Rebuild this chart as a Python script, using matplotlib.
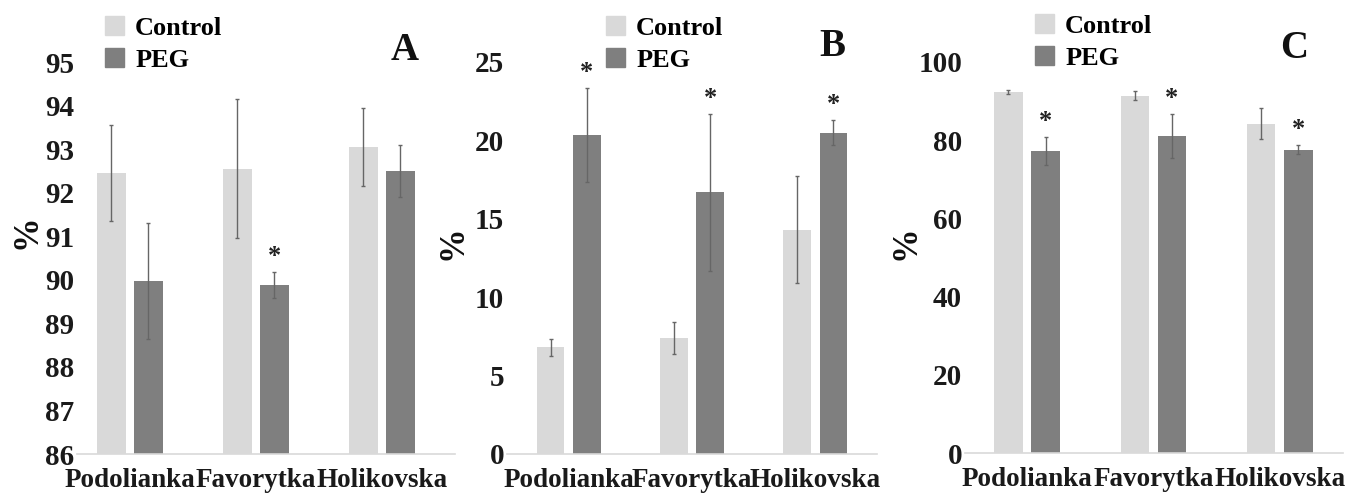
import matplotlib
matplotlib.use("Agg")
import matplotlib.pyplot as plt
import numpy as np
from matplotlib.patches import Patch

### DATOS
### ------------------

varieties = ["Podolianka", "Favorytka", "Holikovska"]

a_control = [92.45, 92.55, 93.05]
a_control_err = [1.1, 1.6, 0.9]
a_peg = [89.97, 89.88, 92.5]
a_peg_err = [1.33, 0.3, 0.6]
a_star = [False, True, False]

b_control = [6.8, 7.4, 14.3]
b_control_err = [0.55, 1.05, 3.4]
b_peg = [20.35, 16.7, 20.5]
b_peg_err = [3.0, 5.0, 0.8]
b_star = [True, True, True]

c_control = [92.3, 91.4, 84.2]
c_control_err = [0.5, 1.2, 4.0]
c_peg = [77.3, 81.1, 77.6]
c_peg_err = [3.6, 5.6, 1.1]
c_star = [True, True, True]

ticks_a = [86, 87, 88, 89, 90, 91, 92, 93, 94, 95]
ticks_b = [0, 5, 10, 15, 20, 25]
ticks_c = [0, 20, 40, 60, 80, 100]

### ESTILO
### ------------------

W, H = 1368, 493
plt.rcParams['font.family'] = ['Liberation Serif', 'DejaVu Serif']
plt.rcParams['font.weight'] = 'bold'

LIGHT = '#d9d9d9'
DARK = '#7f7f7f'
ERR = '#666666'

fig = plt.figure(figsize=(W / 100, H / 100), dpi=100)


def px_axes(left, right, bottom, top):
    return fig.add_axes([left / W, 1 - bottom / H, (right - left) / W, (bottom - top) / H])


def draw_panel(ax, control, control_err, peg, peg_err, stars, ylim, yticks, xlim,
               letter, letter_xy, legend_xy, ylabel_xy):
    x = np.arange(len(varieties))
    w = 0.225
    off = 0.147
    ax.bar(x - off, control, w, color=LIGHT, zorder=2)
    ax.bar(x + off, peg, w, color=DARK, zorder=2)
    ax.errorbar(x - off, control, yerr=control_err, fmt='none', ecolor=ERR,
                elinewidth=1, capsize=1.5, capthick=1, zorder=3)
    ax.errorbar(x + off, peg, yerr=peg_err, fmt='none', ecolor=ERR,
                elinewidth=1, capsize=1.5, capthick=1, zorder=3)
    # asteriscos de significancia
    for i, s in enumerate(stars):
        if s:
            ax.annotate('*', (x[i] + off, peg[i] + peg_err[i]), xytext=(0, 3),
                        textcoords='offset points', ha='center', va='bottom',
                        fontsize=19, color='#222222')

    ax.set_ylim(*ylim)
    ax.set_xlim(*xlim)
    ax.set_yticks(yticks)
    ax.set_xticks(x)
    ax.set_xticklabels(varieties)
    for sp in ['top', 'right', 'left']:
        ax.spines[sp].set_visible(False)
    ax.spines['bottom'].set_color(LIGHT)
    ax.spines['bottom'].set_linewidth(1.2)
    ax.tick_params(axis='both', length=0, colors='#1a1a1a')
    ax.tick_params(axis='y', pad=2, labelsize=21)
    ax.tick_params(axis='x', pad=10, labelsize=19.5)
    ax.patch.set_alpha(0)

    fig.text(letter_xy[0] / W, 1 - letter_xy[1] / H, letter, fontsize=28,
             ha='center', va='center', color='#111111')
    fig.text(ylabel_xy[0] / W, 1 - ylabel_xy[1] / H, '%', fontsize=25,
             rotation=90, ha='center', va='center', color='#111111')

    handles = [Patch(color=LIGHT, label='Control'), Patch(color=DARK, label='PEG')]
    fig.legend(handles=handles, loc='upper left',
               bbox_to_anchor=(legend_xy[0] / W, 1 - legend_xy[1] / H),
               frameon=False, fontsize=19, handlelength=0.72, handleheight=0.72,
               handletextpad=0.42, labelspacing=0.32, borderpad=0, borderaxespad=0)


ax_a = px_axes(77, 455, 454, 62)
draw_panel(ax_a, a_control, a_control_err, a_peg, a_peg_err, a_star, (86, 95), ticks_a,
           (-0.42, 2.58), 'A', (405, 51), (105, 16), (27, 232))

ax_b = px_axes(507, 877, 454, 62)
draw_panel(ax_b, b_control, b_control_err, b_peg, b_peg_err, b_star, (0, 25), ticks_b,
           (-0.5, 2.5), 'B', (832, 47), (606, 16), (453, 243))

ax_c = px_axes(965, 1343, 453, 62)
draw_panel(ax_c, c_control, c_control_err, c_peg, c_peg_err, c_star, (0, 100), ticks_c,
           (-0.49, 2.5), 'C', (1294, 48), (1035, 14), (906, 243))

fig.savefig('out.png', dpi=100)
